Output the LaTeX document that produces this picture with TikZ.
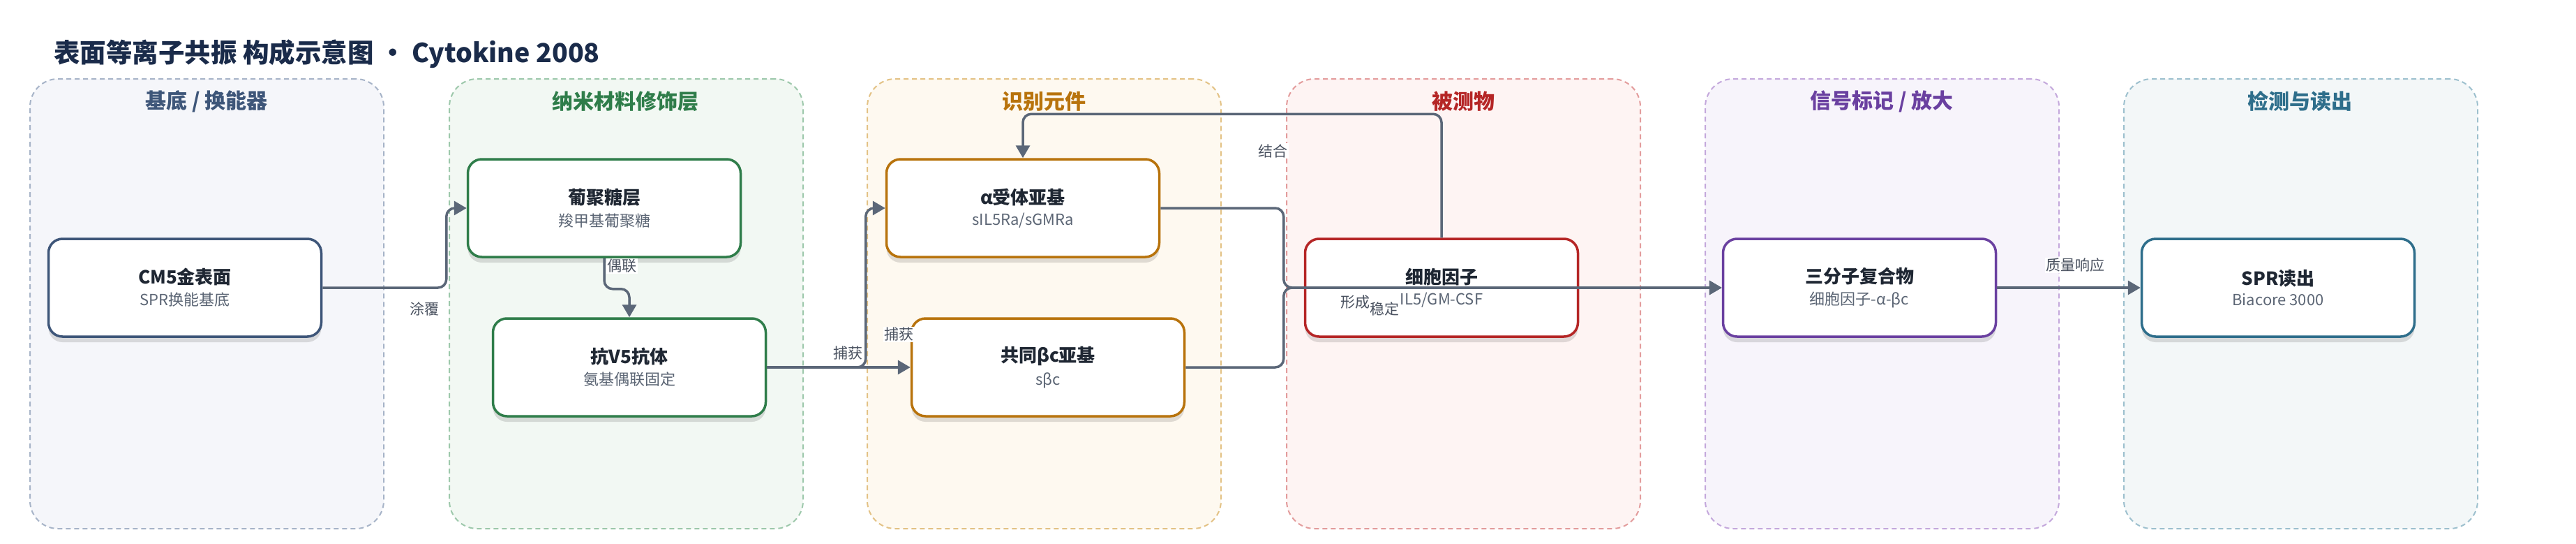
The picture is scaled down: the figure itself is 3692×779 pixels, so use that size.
\documentclass[tikz,border=0pt]{standalone}
\usepackage{fontspec}
\setmainfont{Noto Sans CJK SC}
\usetikzlibrary{arrows.meta,shadows}
\definecolor{laneAb}{HTML}{A7B4C8}\definecolor{laneAf}{HTML}{F5F6FA}\definecolor{laneAt}{HTML}{3E5679}
\definecolor{laneBb}{HTML}{9DC8AB}\definecolor{laneBf}{HTML}{F2F8F3}\definecolor{laneBt}{HTML}{2F7D4A}
\definecolor{laneCb}{HTML}{E3C285}\definecolor{laneCf}{HTML}{FEF9F0}\definecolor{laneCt}{HTML}{B8730C}
\definecolor{laneDb}{HTML}{E39C9C}\definecolor{laneDf}{HTML}{FEF4F3}\definecolor{laneDt}{HTML}{B52626}
\definecolor{laneEb}{HTML}{C4A8DC}\definecolor{laneEf}{HTML}{F7F4FB}\definecolor{laneEt}{HTML}{6A40A0}
\definecolor{laneFb}{HTML}{9DC0CE}\definecolor{laneFf}{HTML}{F3F7F8}\definecolor{laneFt}{HTML}{2E6E8B}
\definecolor{edgec}{HTML}{5B6778}
\definecolor{titlec}{HTML}{1A2B4A}
\definecolor{ntc}{HTML}{1F2733}
\definecolor{nsc}{HTML}{5B6574}
\definecolor{lblc}{HTML}{4A5260}
\newcommand\NodeT[1]{{\fontsize{26}{30}\selectfont\bfseries\color{ntc}#1}}
\newcommand\NodeS[1]{{\fontsize{22}{26}\selectfont\color{nsc}#1}}
\begin{document}
\begin{tikzpicture}[x=1pt,y=-1pt,
  lane/.style 2 args={draw=#1, fill=#2, line width=2pt, dash pattern=on 7pt off 5pt,
    rounded corners=40pt, minimum width=507pt, minimum height=644pt, anchor=north west, inner sep=0pt},
  lanetitle/.style={font=\fontsize{30}{34}\selectfont\bfseries, text=#1},
  box/.style={draw=#1, fill=white, line width=3.5pt, rounded corners=20pt,
    minimum width=391pt, minimum height=140pt, align=center, inner sep=0pt,
    drop shadow={shadow xshift=0pt, shadow yshift=-8pt, opacity=0.12, fill=black}},
  arr/.style={draw=edgec, line width=3.5pt, rounded corners=12pt,
    -{Triangle[length=18pt,width=20pt]}},
  lbl/.style={font=\fontsize{21}{24}\selectfont, text=lblc, fill=white, inner sep=1.5pt}
]
\useasboundingbox (0,0) rectangle (3692,779);
\fill[white] (0,0) rectangle (3692,779);
% title
\node[anchor=west, font=\fontsize{37.5}{44}\selectfont\bfseries, text=titlec, inner sep=0pt] (title) at (77,77) {表面等离子共振 构成示意图 · Cytokine 2008};
% lanes
\node[lane={laneAb}{laneAf}] (l1) at (42,112) {};
\node[lane={laneBb}{laneBf}] (l2) at (643,112) {};
\node[lane={laneCb}{laneCf}] (l3) at (1242,112) {};
\node[lane={laneDb}{laneDf}] (l4) at (1843,112) {};
\node[lane={laneEb}{laneEf}] (l5) at (2443,112) {};
\node[lane={laneFb}{laneFf}] (l6) at (3043,112) {};
\node[lanetitle=laneAt] (t1) at (296,145) {基底 / 换能器};
\node[lanetitle=laneBt] (t2) at (896,145) {纳米材料修饰层};
\node[lanetitle=laneCt] (t3) at (1496,145) {识别元件};
\node[lanetitle=laneDt] (t4) at (2097,145) {被测物};
\node[lanetitle=laneEt] (t5) at (2697,145) {信号标记 / 放大};
\node[lanetitle=laneFt] (t6) at (3296,145) {检测与读出};
% nodes
\node[box=laneAt] (cm5) at (265,412) {\NodeT{CM5金表面}\\[9pt]\NodeS{SPR换能基底}};
\node[box=laneBt] (dex) at (866,298) {\NodeT{葡聚糖层}\\[9pt]\NodeS{羧甲基葡聚糖}};
\node[box=laneBt] (ab) at (902,526) {\NodeT{抗V5抗体}\\[9pt]\NodeS{氨基偶联固定}};
\node[box=laneCt] (alpha) at (1466,298) {\NodeT{α受体亚基}\\[9pt]\NodeS{sIL5Ra/sGMRa}};
\node[box=laneCt] (beta) at (1502,526) {\NodeT{共同βc亚基}\\[9pt]\NodeS{sβc}};
\node[box=laneDt] (cyto) at (2066,412) {\NodeT{细胞因子}\\[9pt]\NodeS{IL5/GM-CSF}};
\node[box=laneEt] (tri) at (2665,412) {\NodeT{三分子复合物}\\[9pt]\NodeS{细胞因子-α-βc}};
\node[box=laneFt] (spr) at (3265,412) {\NodeT{SPR读出}\\[9pt]\NodeS{Biacore 3000}};
% edges
\draw[arr] (cm5.east) -| ([xshift=-29pt]dex.west) -- (dex.west);
\draw[arr] (dex.south) -- ++(0,44) -| (ab.north);
\draw[arr] (ab.east) -| ([xshift=-28pt]alpha.west) -- (alpha.west);
\draw[arr] (ab.east) -- (beta.west);
\draw[arr] (cyto.north) -- ++(0,-177) -| (alpha.north);
\draw[arr] (alpha.east) -| ([xshift=-29pt]cyto.west) -- (tri.west);
\draw[arr] (beta.east) -| ([xshift=-29pt]cyto.west) -- (tri.west);
\draw[arr] (tri.east) -- (spr.west);
% labels
\node[lbl] (e1) at (608,442) {涂覆};
\node[lbl, anchor=west] (e2) at (869,381) {偶联};
\node[lbl] (e3) at (1215,506) {捕获};
\node[lbl] (e4) at (1288,479) {捕获};
\node[lbl] (e5) at (1824,216) {结合};
\node[lbl, fill=none] (e6) at (1942,433) {形成};
\node[lbl, fill=none] (e7) at (1984,442) {稳定};
\node[lbl] (e8) at (2974,380) {质量响应};
\end{tikzpicture}
\end{document}
